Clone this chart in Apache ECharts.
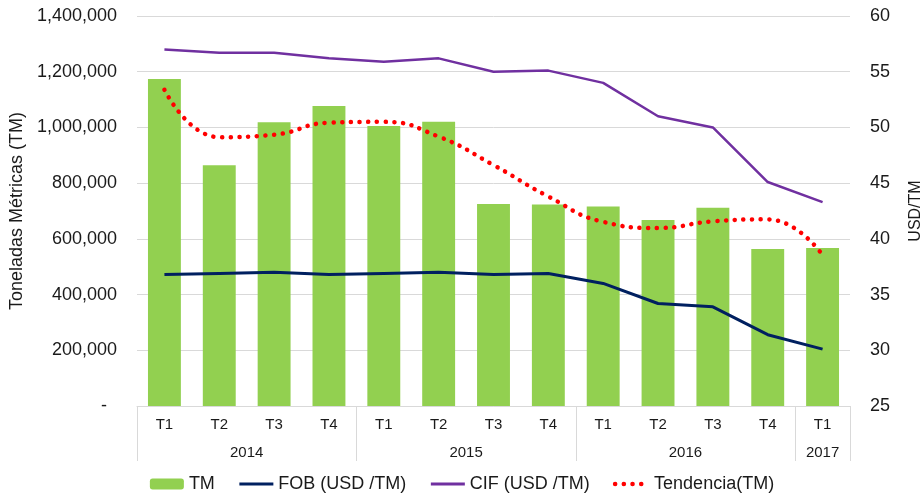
<!DOCTYPE html>
<html>
<head>
<meta charset="utf-8">
<script src="https://cdn.jsdelivr.net/npm/echarts@6/dist/echarts.min.js"></script>
<style>
  html, body { margin: 0; padding: 0; background: #fff; }
  #chart { width: 924px; height: 498px; }
</style>
</head>
<body>
<div id="chart"></div>
<script>
  // categorías (trimestres) y años
  var quarters = ['T1', 'T2', 'T3', 'T4', 'T1', 'T2', 'T3', 'T4', 'T1', 'T2', 'T3', 'T4', 'T1'];
  var years = ['2014', '2015', '2016', '2017'];
  var yearSpans = [4, 4, 4, 1];

  // series
  var tm = [1174000, 864000, 1019000, 1077000, 1005000, 1020000, 725000, 723000, 716000, 668000, 712000, 564000, 567000];
  var fob = [36.8, 36.9, 37.0, 36.8, 36.9, 37.0, 36.8, 36.9, 36.0, 34.2, 33.9, 31.4, 30.1];
  var cif = [57.0, 56.7, 56.7, 56.2, 55.9, 56.2, 55.0, 55.1, 54.0, 51.0, 50.0, 45.1, 43.3];
  var tendencia = [1135000, 965000, 974000, 1017000, 1020000, 967000, 865000, 752000, 661000, 639000, 663000, 670000, 542000];

  // ejes
  var leftTicks = { min: 0, max: 1400000, interval: 200000 };
  var rightTicks = { min: 25, max: 60, interval: 5 };

  var FONT = 'Liberation Sans, Arial, sans-serif';
  var TXT = '#1a1a1a';
  var GRID = '#d9d9d9';

  // límites y centros de los grupos de años
  var bounds = [0], centers = [];
  var acc = 0;
  for (var i = 0; i < yearSpans.length; i++) {
    centers.push(acc + yearSpans[i] / 2);
    acc += yearSpans[i];
    bounds.push(acc);
  }

  var noSymbol = { color: 'transparent', borderWidth: 0, opacity: 0 };
  var dotted = { color: '#FF0000', width: 4.5, type: [0.1, 8.6], cap: 'round' };

  var option = {
    animation: false,
    textStyle: { fontFamily: FONT, color: TXT },
    grid: { left: 137, right: 74, top: 16, bottom: 92, outerBoundsMode: 'none', containLabel: false },
    legend: {
      left: 'center',
      bottom: 0,
      itemWidth: 34,
      itemHeight: 11,
      itemGap: 23,
      textStyle: { fontSize: 18, color: TXT, fontFamily: FONT },
      data: [
        'TM',
        { name: 'FOB (USD /TM)', itemStyle: noSymbol, lineStyle: { color: '#002060', width: 3 } },
        { name: 'CIF (USD /TM)', itemStyle: noSymbol, lineStyle: { color: '#7030A0', width: 3 } },
        { name: 'Tendencia(TM)', itemStyle: noSymbol, lineStyle: dotted }
      ]
    },
    xAxis: [{
      type: 'category',
      data: quarters,
      axisLine: { show: true, lineStyle: { color: GRID } },
      axisTick: { show: false },
      axisLabel: { fontSize: 15, color: TXT, margin: 11 }
    }, {
      type: 'value',
      position: 'bottom',
      min: 0,
      max: quarters.length,
      axisLine: { show: false },
      splitLine: { show: false },
      axisTick: { show: true, length: 55, customValues: bounds, lineStyle: { color: GRID } },
      axisLabel: {
        fontSize: 15, color: TXT, margin: 39,
        customValues: centers,
        formatter: function (v) { return years[centers.indexOf(v)]; }
      }
    }],
    yAxis: [{
      type: 'value',
      min: leftTicks.min, max: leftTicks.max, interval: leftTicks.interval,
      name: 'Toneladas Métricas (TM)',
      nameLocation: 'middle',
      nameGap: 110,
      nameTextStyle: { fontSize: 18, color: TXT },
      axisLine: { show: false },
      axisTick: { show: false },
      splitLine: { lineStyle: { color: GRID } },
      axisLabel: {
        fontSize: 18, color: TXT, margin: 20,
        formatter: function (v) { return v === 0 ? '-  ' : v.toLocaleString('en-US'); }
      }
    }, {
      type: 'value',
      min: rightTicks.min, max: rightTicks.max, interval: rightTicks.interval,
      name: 'USD/TM',
      nameLocation: 'middle',
      nameGap: 58,
      nameTextStyle: { fontSize: 16, color: TXT },
      axisLine: { show: false },
      axisTick: { show: false },
      splitLine: { show: false },
      axisLabel: { fontSize: 18, color: TXT, margin: 20 }
    }],
    series: [{
      name: 'TM',
      type: 'bar',
      data: tm,
      barWidth: '60%',
      itemStyle: { color: '#92D050' }
    }, {
      name: 'FOB (USD /TM)',
      type: 'line',
      yAxisIndex: 1,
      data: fob,
      symbol: 'none',
      lineStyle: { color: '#002060', width: 3 },
      itemStyle: { color: '#002060' }
    }, {
      name: 'CIF (USD /TM)',
      type: 'line',
      yAxisIndex: 1,
      data: cif,
      symbol: 'none',
      lineStyle: { color: '#7030A0', width: 2.5 },
      itemStyle: { color: '#7030A0' }
    }, {
      name: 'Tendencia(TM)',
      type: 'line',
      data: tendencia,
      smooth: true,
      symbol: 'none',
      lineStyle: dotted,
      itemStyle: { color: '#FF0000' }
    }]
  };

  echarts.init(document.getElementById('chart')).setOption(option);
</script>
</body>
</html>
